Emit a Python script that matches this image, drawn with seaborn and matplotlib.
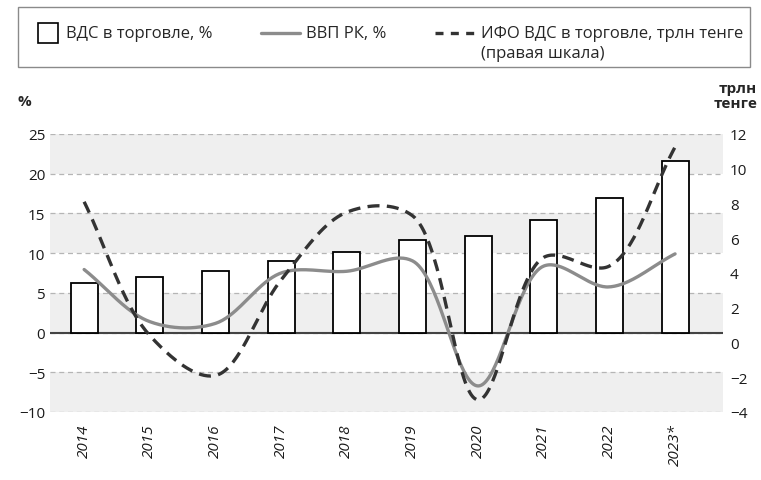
import numpy as np
import pandas as pd
import matplotlib

matplotlib.use("Agg")
import matplotlib.pyplot as plt
from matplotlib.lines import Line2D
from matplotlib.patches import Rectangle
from matplotlib.legend_handler import HandlerPatch, HandlerLine2D
import seaborn as sns

sns.set_style("white")
plt.rcParams["font.family"] = ["Open Sans", "DejaVu Sans"]
plt.rcParams["font.size"] = 11

years = ["2014", "2015", "2016", "2017", "2018", "2019", "2020", "2021", "2022", "2023*"]
vds_share = [6.2, 7.0, 7.8, 9.05, 10.2, 11.65, 12.1, 14.15, 16.95, 21.65]
gdp_growth = [4.2, 1.2, 1.1, 4.0, 4.1, 4.7, -2.5, 4.4, 3.2, 5.1]
ifo_vds = [8.1, 0.4, -1.9, 3.6, 7.5, 7.3, -3.3, 4.9, 4.4, 11.25]

left_ticks = [-10, -5, 0, 5, 10, 15, 20, 25]
right_ticks = [-4, -2, 0, 2, 4, 6, 8, 10, 12]

GRAY = "#8c8c8c"
DARK = "#333333"
DASH = (0, (3.6, 2.2))
LEG_SHIFT = 7.2  # points, lifts legend handles to the first text line


def smooth(ys, n=40, sx=65.7, sy=17.4, alpha=0.5):
    # centripetal catmull-rom, roughly what excel does with "smoothed line"
    p = np.column_stack([np.arange(len(ys)) * sx, np.asarray(ys) * sy])
    p = np.vstack([2 * p[0] - p[1], p, 2 * p[-1] - p[-2]])
    out = []
    for i in range(1, len(p) - 2):
        p0, p1, p2, p3 = p[i - 1], p[i], p[i + 1], p[i + 2]
        t0 = 0.0
        t1 = t0 + np.linalg.norm(p1 - p0) ** alpha
        t2 = t1 + np.linalg.norm(p2 - p1) ** alpha
        t3 = t2 + np.linalg.norm(p3 - p2) ** alpha
        t = np.linspace(t1, t2, n)[:, None]
        a1 = (t1 - t) / (t1 - t0) * p0 + (t - t0) / (t1 - t0) * p1
        a2 = (t2 - t) / (t2 - t1) * p1 + (t - t1) / (t2 - t1) * p2
        a3 = (t3 - t) / (t3 - t2) * p2 + (t - t2) / (t3 - t2) * p3
        b1 = (t2 - t) / (t2 - t0) * a1 + (t - t0) / (t2 - t0) * a2
        b2 = (t3 - t) / (t3 - t1) * a2 + (t - t1) / (t3 - t1) * a3
        c = (t2 - t) / (t2 - t1) * b1 + (t - t1) / (t2 - t1) * b2
        out.append(c if i == 1 else c[1:])
    c = np.vstack(out)
    return pd.DataFrame({"x": c[:, 0] / sx, "y": c[:, 1] / sy})


def square_patch(legend, orig_handle, xdescent, ydescent, width, height, fontsize):
    s = 14.5
    return Rectangle((width - s - 1 - xdescent,
                      height / 2 - s / 2 - ydescent + LEG_SHIFT), s, s)


class RaisedLine(HandlerLine2D):
    def create_artists(self, legend, orig_handle, xdescent, ydescent, width,
                       height, fontsize, trans):
        arts = super().create_artists(legend, orig_handle, xdescent, ydescent,
                                      width, height, fontsize, trans)
        for a in arts:
            a.set_ydata(np.asarray(a.get_ydata()) + LEG_SHIFT)
        return arts


fig = plt.figure(figsize=(7.61, 4.81), dpi=100)
ax = fig.add_axes([50 / 761, 1 - 413 / 481, 673 / 761, 278 / 481])

for lo in [-10, 0, 10, 20]:
    ax.axhspan(lo, lo + 5, color="#efefef", lw=0, zorder=0)

sns.barplot(x=years, y=vds_share, ax=ax, color="white", edgecolor="black",
            linewidth=1.3, width=0.41, saturation=1, zorder=3)
ax.set_ylim(-10, 25)
ax.set_xlim(-0.52, 9.73)
ax.set_yticks(left_ticks)
ax.yaxis.grid(True, ls=(0, (4, 3)), color="#b5b5b5", lw=0.9)
ax.set_axisbelow(True)
ax.axhline(0, color="#444444", lw=1.5, zorder=2)
ax.set_xlabel("")
ax.set_ylabel("")
ax.tick_params(axis="both", length=0, labelsize=11, labelcolor="#1a1a1a")
ax.tick_params(axis="x", pad=8)
for lab in ax.get_xticklabels():
    lab.set_rotation(90)
    lab.set_style("italic")
for s in ax.spines.values():
    s.set_visible(False)

ax2 = ax.twinx()
sns.lineplot(data=smooth(gdp_growth), x="x", y="y", ax=ax2, color=GRAY,
             lw=2.4, sort=False, estimator=None)
sns.lineplot(data=smooth(ifo_vds), x="x", y="y", ax=ax2, color=DARK,
             lw=2.4, sort=False, estimator=None)
ax2.lines[-1].set_linestyle(DASH)
ax2.set_ylim(-4, 12)
ax2.set_yticks(right_ticks)
ax2.set_xlim(-0.52, 9.73)
ax2.grid(False)
ax2.set_ylabel("")
ax2.set_xlabel("")
ax2.tick_params(axis="y", length=0, labelsize=11, pad=5, labelcolor="#1a1a1a")
for s in ax2.spines.values():
    s.set_visible(False)

fig.text(18 / 761, 1 - 102 / 481, "%", fontsize=11, fontweight="bold", va="center")
fig.text(757 / 761, 1 - 82 / 481, "трлн\nтенге", fontsize=11, fontweight="bold",
         ha="right", va="top", linespacing=1.05)

# legend frame + entries
fig.patches.append(Rectangle((18 / 761, 1 - 68 / 481), 732 / 761, 60 / 481,
                             transform=fig.transFigure, fill=False,
                             edgecolor="#8a8a8a", lw=1))
handles = [
    Rectangle((0, 0), 1, 1, facecolor="white", edgecolor="black", lw=1.2),
    Line2D([], [], color=GRAY, lw=2.4),
    Line2D([], [], color=DARK, lw=2.4, ls=(0, (2.4, 2.2))),
]
# trailing blank line keeps single-line entries level with the first line of the last one
labels = ["ВДС в торговле, %\n ", "ВВП РК, %\n ",
          "ИФО ВДС в торговле, трлн тенге\n(правая шкала)"]
leg = fig.legend(handles, labels, loc="upper left", bbox_to_anchor=(20 / 761, 1 - 26 / 481),
                 ncol=3, frameon=False, handlelength=2.35, handletextpad=0.4,
                 columnspacing=2.9, fontsize=12, borderpad=0, borderaxespad=0,
                 handler_map={Rectangle: HandlerPatch(patch_func=square_patch),
                              Line2D: RaisedLine()})
for t in leg.get_texts():
    t.set_linespacing(1.3)

fig.savefig("out.png", dpi=100)
